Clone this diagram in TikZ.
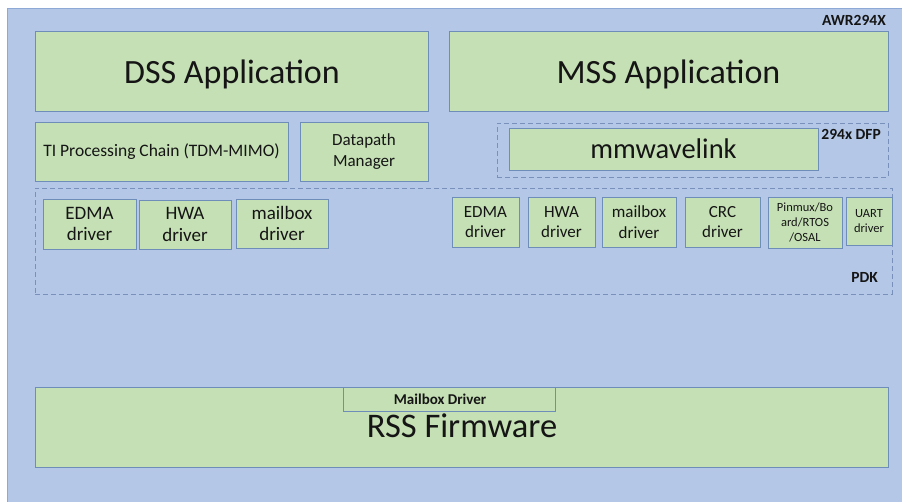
\documentclass[tikz,border=0pt]{standalone}
\usepackage{fontspec}
\setmainfont{Carlito}
\definecolor{bgblue}{HTML}{B4C7E7}
\definecolor{bgline}{HTML}{8EA9D6}
\definecolor{boxgreen}{HTML}{C5E0B4}
\definecolor{boxline}{HTML}{6F8DB9}
\definecolor{dashline}{HTML}{7890BA}
\definecolor{txt}{HTML}{151515}
\newcommand{\fs}[2]{\fontsize{#1}{#2}\selectfont}
\tikzset{
  gbox/.style={draw=boxline, fill=boxgreen, line width=0.9pt, inner sep=0pt, align=center, text=txt},
  dbox/.style={draw=dashline, dash pattern=on 5pt off 3pt, line width=0.9pt, inner sep=0pt},
  lbl/.style={inner sep=0pt, anchor=east, font=\bfseries\fs{15.5}{18}, text=txt},
  plain/.style={inner sep=0pt, text=txt},
}
\begin{document}
\begin{tikzpicture}[x=1pt,y=-1pt]
\useasboundingbox (0,0) rectangle (902,501);
\fill[white] (0,0) rectangle (902,501);
\draw[bgline, fill=bgblue, line width=0.8pt] (7,8) rectangle (903,502);
\node[lbl] (awr) at (886,20) {AWR294X};
% top applications
\node[gbox, minimum width=393pt, minimum height=80pt] (dss) at (231.5,71) {};
\node[plain, font=\fs{34}{40}, text depth=0pt] (dsstxt) at (232,72) {DSS Application};
\node[gbox, minimum width=439pt, minimum height=80pt] (mss) at (668.5,71) {};
\node[plain, font=\fs{34}{40}, text depth=0pt] (msstxt) at (668.5,72) {MSS Application};
% second row
\node[gbox, minimum width=253pt, minimum height=59pt, font=\fs{17.5}{21}] (ti) at (161.5,151.5) {TI Processing Chain (TDM-MIMO)};
\node[gbox, minimum width=128pt, minimum height=59pt, font=\fs{17}{21}] (dpm) at (364,151.5) {Datapath\\Manager};
\node[dbox, minimum width=391pt, minimum height=54pt] (dfp) at (692.5,150) {};
\node[gbox, minimum width=309pt, minimum height=42pt, font=\fs{28.5}{33}] (mmw) at (663.5,149) {mmwavelink};
\node[lbl] (dfplbl) at (881,134) {294x DFP};
% PDK
\node[dbox, minimum width=857pt, minimum height=106pt] (pdk) at (463.5,241) {};
\node[lbl] (pdklbl) at (878,277) {PDK};
\node[gbox, minimum width=93pt, minimum height=50pt, font=\fs{19}{21.5}] (ledma) at (89.5,224) {EDMA\\driver};
\node[gbox, minimum width=92pt, minimum height=49pt, font=\fs{19}{21.5}] (lhwa) at (185,224.5) {HWA\\driver};
\node[gbox, minimum width=92pt, minimum height=49pt, font=\fs{19}{21.5}] (lmb) at (282,223.5) {mailbox\\driver};
\node[gbox, minimum width=67pt, minimum height=50pt, font=\fs{17}{20.5}] (redma) at (485.5,222) {EDMA\\driver};
\node[gbox, minimum width=67pt, minimum height=50pt, font=\fs{17}{20.5}] (rhwa) at (561.5,222) {HWA\\driver};
\node[gbox, minimum width=74pt, minimum height=50pt, font=\fs{17}{20.5}] (rmb) at (639,222) {mailbox\\driver};
\node[gbox, minimum width=75pt, minimum height=50pt, font=\fs{17}{20.5}] (crc) at (722.5,222) {CRC\\driver};
\node[gbox, minimum width=74pt, minimum height=51pt, font=\fs{12.5}{15}] (pin) at (805,222.5) {Pinmux/Bo\\ard/RTOS\\/OSAL};
\node[gbox, minimum width=46pt, minimum height=48pt, font=\fs{12.5}{15}] (uart) at (869,221) {UART\\driver};
% RSS
\node[gbox, minimum width=853pt, minimum height=80pt] (rss) at (461.5,427) {};
\node[plain, font=\fs{34.5}{40}] (rsstxt) at (462,426) {RSS Firmware};
\node[gbox, minimum width=212pt, minimum height=24pt] (mbd) at (449,399.5) {};
\node[plain, font=\bfseries\fs{15}{18}] (mbdtxt) at (440,399) {Mailbox Driver};
\end{tikzpicture}
\end{document}
